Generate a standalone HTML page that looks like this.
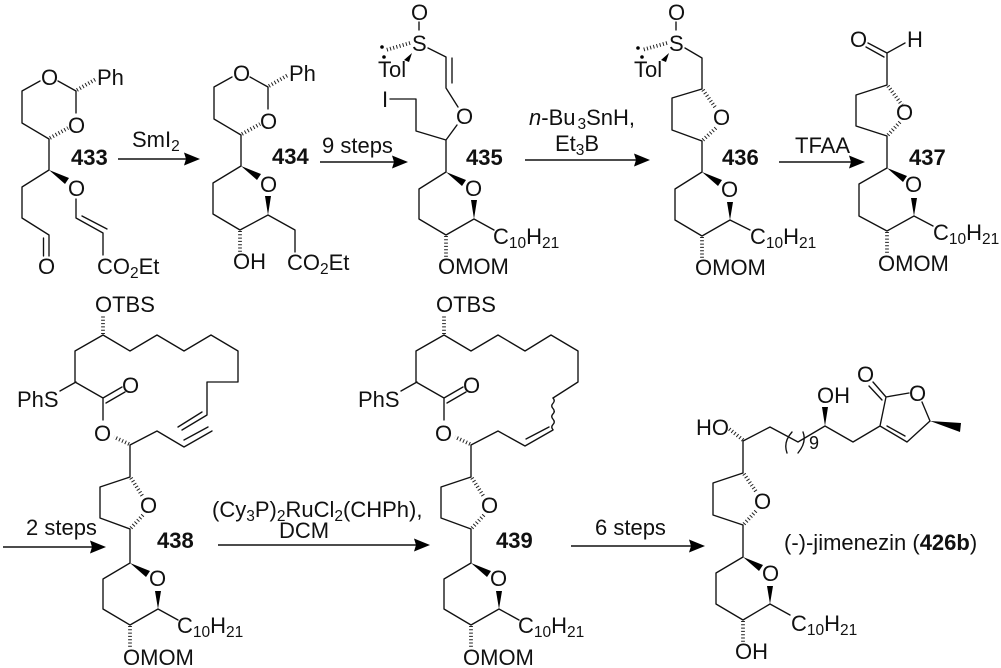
<!DOCTYPE html>
<html><head><meta charset="utf-8"><style>
html,body{margin:0;padding:0;background:#fff}
svg{display:block}
text{font-family:"Liberation Sans",sans-serif;font-size:22px;fill:#111}
.b{font-weight:bold}
.s{font-size:15.5px}
.l{fill:none;stroke:#111;stroke-width:1.35;stroke-linecap:round;stroke-linejoin:round}
.h{fill:none;stroke:#222;stroke-width:3.8;stroke-dasharray:1 2.3}
.f{fill:#000;stroke:none}
.a{fill:none;stroke:#111;stroke-width:1.4}
</style></head><body>
<svg width="1001" height="668" viewBox="0 0 1001 668" xmlns="http://www.w3.org/2000/svg">
<!-- 433 -->
<path class="l" d="M40 81L22 91V123L49 139V170L22 187V218L49 235V256M43.500 238V256M58 81L76 91V113M76 199V218L103 233V255M82 216L107 229"/>
<path class="h" d="M50 138L68 128M77 90L96 79"/>
<path class="f" d="M49 170L69 178L65 184Z"/>
<text x="41" y="85">O</text><text x="97" y="85">Ph</text><text x="68" y="133">O</text><text x="68" y="196">O</text><text x="38" y="274">O</text>
<text x="97" y="274">CO<tspan class="s" dy="4">2</tspan><tspan dy="-4">Et</tspan></text>
<text class="b" x="71" y="165">433</text>
<!-- SmI2 arrow -->
<path class="a" d="M118 159H186"/><path class="f" d="M200 159L184 152.500L186 159L184 165.500Z"/>
<text x="132" y="147">SmI<tspan class="s" dy="4">2</tspan></text>
<!-- 434 -->
<path class="l" d="M232 77L214 87V119L241 135V166L213 183V214L240 230L268 215L295 230V252M250 77L268 87V109"/>
<path class="h" d="M242 134L260 124M269 86L288 75M240 231V252"/>
<path class="f" d="M241 166L261 174L257 180ZM268 215L265 196H271Z"/>
<text x="233" y="81">O</text><text x="289" y="81">Ph</text><text x="260" y="129">O</text><text x="260" y="192">O</text>
<text x="233" y="269">OH</text>
<text x="287" y="270">CO<tspan class="s" dy="4">2</tspan><tspan dy="-4">Et</tspan></text>
<text class="b" x="272" y="164">434</text>
<!-- 9 steps arrow -->
<path class="a" d="M320 162H394"/><path class="f" d="M408 162L392 155.500L394 162L392 168.500Z"/>
<text x="322" y="153">9 steps</text>
<!-- 435 -->
<path class="l" d="M419 22V30M428 48L446 57V88L458 107M452 58V83M457 125L446 140L416 131V99H390M446 140V172L419 189V219L446 235L474 219L494 230"/>
<path class="h" d="M410 43L386 50M446 236V257"/>
<path class="f" d="M412 53L404 60L409 62ZM446 172L466 180L462 186ZM474 219L471 200H477Z"/>
<circle class="f" cx="382" cy="47" r="1.8"/><circle class="f" cx="384" cy="57" r="1.8"/>
<text x="411" y="20">O</text><text x="412" y="51">S</text><text x="378" y="77">Tol</text><text x="382" y="107">I</text>
<text x="456" y="124">O</text><text x="465" y="196">O</text>
<text x="493" y="244">C<tspan class="s" dy="4">10</tspan><tspan dy="-4">H</tspan><tspan class="s" dy="4">21</tspan></text>
<text x="438" y="274">OMOM</text>
<text class="b" x="466" y="165">435</text>
<!-- arrow 3 -->
<path class="a" d="M525 160H636"/><path class="f" d="M650 160L634 153.500L636 160L634 166.500Z"/>
<text x="529" y="125"><tspan font-style="italic">n</tspan>-Bu<tspan class="s" dy="4" dx="2">3</tspan><tspan dy="-4">SnH,</tspan></text>
<text x="555" y="151">Et<tspan class="s" dy="4">3</tspan><tspan dy="-4">B</tspan></text>
<!-- 436 -->
<path class="l" d="M676 22V30M685 48L702 58V89L672 98V130L702 141V172L675 189V220L702 236L730 220L750 230"/>
<path class="h" d="M667 43L642 50M703 90L715 107M703 140L717 127M702 237V258"/>
<path class="f" d="M669 53L661 60L666 62ZM702 172L722 180L718 186ZM730 220L727 202H733Z"/>
<circle class="f" cx="638" cy="48" r="1.800"/><circle class="f" cx="642" cy="57" r="1.800"/>
<text x="668" y="20">O</text><text x="669" y="51">S</text><text x="634" y="77">Tol</text>
<text x="713" y="125">O</text><text x="721" y="197">O</text>
<text x="750" y="244">C<tspan class="s" dy="4">10</tspan><tspan dy="-4">H</tspan><tspan class="s" dy="4">21</tspan></text>
<text x="695" y="275">OMOM</text>
<text class="b" x="722" y="165">436</text>
<!-- TFAA -->
<path class="a" d="M779 162H851"/><path class="f" d="M865 162L849 155.500L851 162L849 168.500Z"/>
<text x="795" y="153">TFAA</text>
<!-- 437 -->
<path class="l" d="M887 53L868 43M884 57L866 47M887 53L905 43M887 53V85L856 95V126L887 136V168L859 184V216L887 231L914 216L933 226"/>
<path class="h" d="M888 86L902 105M888 135L900 122M887 232V253"/>
<path class="f" d="M887 168L907 176L903 182ZM914 216L911 198H917Z"/>
<text x="850" y="47">O</text><text x="907" y="47">H</text>
<text x="896" y="120">O</text><text x="905" y="192">O</text>
<text x="933" y="240">C<tspan class="s" dy="4">10</tspan><tspan dy="-4">H</tspan><tspan class="s" dy="4">21</tspan></text>
<text x="878" y="271">OMOM</text>
<text class="b" x="909" y="165">437</text>
<!-- 438 -->
<path class="l" d="M103 335L75 351V382L103 398L122 387M106 403L125 392M76 382L60 391M103 398V420M130 445L157 431L184 447L212 431M207 415V382H238V351L211 335L184 351L157 335L130 351L103 335M178 427L202 412M182 430L207 415M184 440L208 427M130 445V477L100 487V518L130 529V563L103 579V609L130 625L158 609L178 620"/>
<path class="h" d="M103 334V315M129 444L114 437M131 478L143 497M131 528L143 515M130 626V647"/>
<path class="f" d="M130 563L150 571L146 577ZM158 609L155 591H161Z"/>
<text x="95" y="312">OTBS</text><text x="17" y="407">PhS</text><text x="122" y="393">O</text><text x="94" y="441">O</text>
<text x="140" y="513">O</text><text x="149" y="586">O</text>
<text x="177" y="633">C<tspan class="s" dy="4">10</tspan><tspan dy="-4">H</tspan><tspan class="s" dy="4">21</tspan></text>
<text x="123" y="665">OMOM</text>
<text class="b" x="157" y="548">438</text>
<!-- arrow 2 steps -->
<path class="a" d="M3 547H92"/><path class="f" d="M106 547L90 540.500L92 547L90 553.500Z"/>
<text x="26" y="535">2 steps</text>
<!-- arrow Ru -->
<path class="a" d="M218 545H416"/><path class="f" d="M430 545L414 538.500L416 545L414 551.500Z"/>
<text x="212" y="517">(Cy<tspan class="s" dy="4">3</tspan><tspan dy="-4">P)</tspan><tspan class="s" dy="4">2</tspan><tspan dy="-4">RuCl</tspan><tspan class="s" dy="4">2</tspan><tspan dy="-4">(CHPh),</tspan></text>
<text x="279" y="538">DCM</text>
<!-- 439 -->
<path class="l" d="M444 335L416 351V382L444 398L463 387M447 403L466 392M417 382L401 391M444 398V420M471 445L498 431L525 446L553 430M526 439L549 427M578 382V351L551 335L525 351L498 335L471 351L444 335M578 382L553 398M471 445V477L441 487V518L471 529V563L444 579V609L471 625L499 609L519 620"/>
<path class="l" d="M553 398q2.500 2.700 0 5.300t0 5.300t0 5.300t0 5.300t0 5.300t0 5.200"/>
<path class="h" d="M444 334V315M470 444L455 437M472 478L484 497M472 528L484 515M471 626V647"/>
<path class="f" d="M471 563L491 571L487 577ZM499 609L496 591H502Z"/>
<text x="436" y="312">OTBS</text><text x="358" y="407">PhS</text><text x="463" y="393">O</text><text x="435" y="441">O</text>
<text x="481" y="513">O</text><text x="490" y="586">O</text>
<text x="518" y="633">C<tspan class="s" dy="4">10</tspan><tspan dy="-4">H</tspan><tspan class="s" dy="4">21</tspan></text>
<text x="463" y="665">OMOM</text>
<text class="b" x="496" y="548">439</text>
<!-- 6 steps -->
<path class="a" d="M571 546H691"/><path class="f" d="M705 546L689 539.500L691 546L689 552.500Z"/>
<text x="595" y="535">6 steps</text>
<!-- jimenezin -->
<path class="l" d="M743 441L770 427L798 442L825 426L853 442L880 426L907 442L930 421L922 402M880 426L886 397L909 393M887 426L905 436M886 397L873 382M882 400L869 386M743 441V473L713 483V515L743 525V557L716 573V604L743 620L770 604L790 615M787 453Q783 442 792 432M803 432Q807 442 798 453"/>
<path class="h" d="M743 440L728 428M744 474L757 493M744 524L756 511M743 621V642"/>
<path class="f" d="M825 426L822 407H828ZM930 421L961 423L960 432ZM743 557L763 565L759 571ZM770 604L767 586H773Z"/>
<text x="817" y="403">OH</text><text x="696" y="435">HO</text><text x="909" y="401">O</text><text x="857" y="382">O</text>
<text x="809" y="449" style="font-size:18px">9</text>
<text x="754" y="509">O</text><text x="762" y="581">O</text>
<text x="791" y="631">C<tspan class="s" dy="4">10</tspan><tspan dy="-4">H</tspan><tspan class="s" dy="4">21</tspan></text>
<text x="735" y="659">OH</text>
<text x="784" y="550">(-)-jimenezin (<tspan class="b">426b</tspan>)</text>
</svg>
</body></html>
